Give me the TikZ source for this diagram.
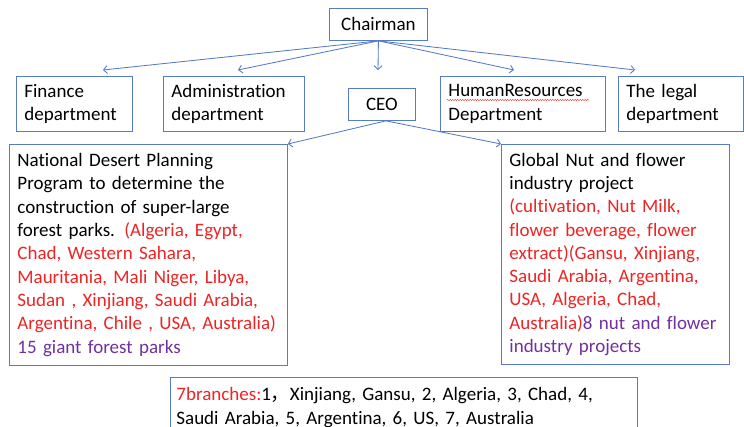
\documentclass[tikz,border=0pt]{standalone}
\usepackage{fontspec}
\setmainfont{Carlito}[Ligatures=NoCommon]
\newfontfamily\cjk{Noto Sans CJK SC}
\usepackage{tikz}
\usetikzlibrary{positioning, arrows.meta, decorations.pathmorphing}
\definecolor{lineblue}{RGB}{86,124,198}
\definecolor{redtext}{RGB}{236,36,36}
\definecolor{purpletext}{RGB}{112,48,160}

\begin{document}
\begin{tikzpicture}
    [
        x=1pt, y=-1pt, >={Straight Barb[length=1.3mm, width=2.8mm]},
        box_node/.style={rectangle, draw=lineblue, line width=0.3mm, anchor=north west, inner xsep=8pt, inner ysep=0pt, align=left, font=\fontsize{19}{23.3}\selectfont},
        top_node/.style={box_node, align=center, inner xsep=0pt},
    ]
        \useasboundingbox (0,0) rectangle (744,427) ;
        \node[top_node, minimum width=98pt, minimum height=32pt] (chair) at (329,8) {Chairman} ;
        \node[box_node, text width=100pt, minimum height=55pt] (fin) at (16,76) {Finance\\department} ;
        \node[box_node, text width=125pt, minimum height=55pt] (adm) at (163,76) {Administration\\department} ;
        \node[top_node, minimum width=67pt, minimum height=32pt] (ceo) at (348,88) {CEO} ;
        \node[box_node, text width=149pt, minimum height=55pt] (hr) at (440,76) {HumanResources\\Department} ;
        \node[box_node, text width=109pt, minimum height=55pt] (legal) at (618,76) {The legal\\department} ;
        \node[box_node, text width=262pt, minimum height=221pt] (plan) at (9,144) {National Desert Planning\\Program to determine the\\construction of super-large\\forest parks. {\color{redtext}(Algeria, Egypt,\\Chad, Western Sahara,\\Mauritania, Mali Niger, Libya,\\Sudan , Xinjiang, Saudi Arabia,\\Argentina, Chile , USA, Australia)}\\{\color{purpletext}15 giant forest parks}} ;
        \node[box_node, text width=212pt, minimum height=220pt] (nut) at (501,144) {Global Nut and flower\\industry project\\{\color{redtext}(cultivation, Nut Milk,\\flower beverage, flower\\extract)(Gansu, Xinjiang,\\Saudi Arabia, Argentina,\\USA, Algeria, Chad,\\Australia)}{\color{purpletext}8 nut and flower\\industry projects}} ;
        \node[box_node, inner xsep=6pt, text width=455pt, minimum height=60pt] (branch) at (170,377) {{\color{redtext}7branches:}1{\cjk ，}Xinjiang, Gansu, 2, Algeria, 3, Chad, 4,\\Saudi Arabia, 5, Argentina, 6, US, 7, Australia} ;
        \coordinate (tfin) at (103,70) ;
        \coordinate (tadm) at (238,70) ;
        \coordinate (tceo) at (378,70) ;
        \coordinate (thr) at (514,70) ;
        \coordinate (tlegal) at (635,70) ;
        \draw[->, line width=0.3mm, color=lineblue] (chair.south) to (tfin) ;
        \draw[->, line width=0.3mm, color=lineblue] (chair.south) to (tadm) ;
        \draw[->, line width=0.3mm, color=lineblue] (chair.south) to (tceo) ;
        \draw[->, line width=0.3mm, color=lineblue] (chair.south) to (thr) ;
        \draw[->, line width=0.3mm, color=lineblue] (chair.south) to (tlegal) ;
        \draw[->, line width=0.3mm, color=lineblue] ([xshift=4pt]ceo.south) to (plan.north east) ;
        \draw[->, line width=0.3mm, color=lineblue] ([xshift=4pt]ceo.south) to (nut.north west) ;
        % spell-check squiggle under HumanResources
        \draw[redtext, line width=0.15mm, decorate, decoration={snake, amplitude=0.6pt, segment length=2.5pt}] ([shift={(7,24)}]hr.north west) to ([shift={(149,24)}]hr.north west) ;
    \end{tikzpicture}
\end{document}
